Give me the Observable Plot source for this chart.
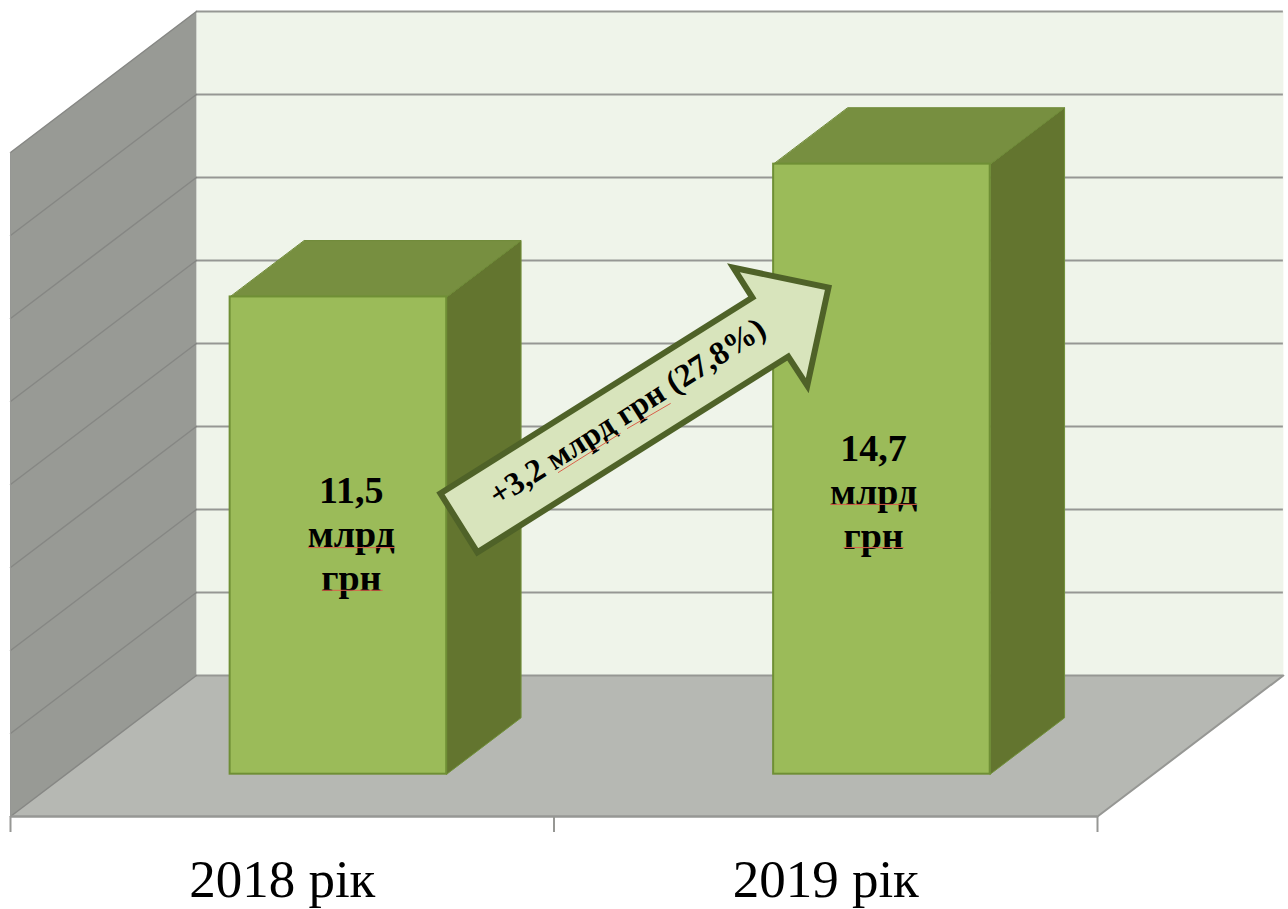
<!DOCTYPE html>
<html>
<head>
<meta charset="utf-8">
<style>html,body{margin:0;padding:0;background:#fff}svg{display:block}</style>
<script src="https://cdn.jsdelivr.net/npm/d3@7"></script>
<script src="https://cdn.jsdelivr.net/npm/@observablehq/plot@0.6"></script>
</head>
<body>
<script>
const years = ["2018 рік", "2019 рік"];
const values = [11.5, 14.7];
const valueText = ["11,5\nмлрд\nгрн", "14,7\nмлрд\nгрн"];
const labelX = [0.627, 1.588];
const labelY = [6.83, 7.84];
const gridValues = [0, 2, 4, 6, 8, 10, 12, 14, 16];
const arrowX = [0.791, 0.859, 1.431, 1.466, 1.505, 1.330, 1.365];
const arrowY = [7.784, 6.364, 11.084, 10.384, 12.744, 13.224, 12.504];
const deltaText = "+3,2 млрд грн (27,8%)";
const deltaAt = [1.135, 9.75];
const underlines = [
  [[0.548, 0.7065], [6.48, 6.48]], [[0.574, 0.684], [5.45, 5.45]],
  [[1.509, 1.667], [7.52, 7.52]], [[1.533, 1.643], [6.48, 6.48]],
  [[1.008, 1.122], [8.29, 9.23]], [[1.135, 1.214], [9.35, 9.95]]
];

// oblique projection: depth 0 = front plane, depth 1 = back wall (axis units per unit depth)
const DX = 0.342, DY = 3.398;
const P = (x, v, d) => [x + DX * d, v + DY * d];
const BAR_NEAR = 0.3, BAR_DEEP = 0.7, BAR_L = 0.3015, BAR_R = 0.7;

const poly = (pts, o) => Plot.line(pts, {x: p => p[0], y: p => p[1], curve: "linear-closed", ...o});
const GRID = "#969794";
const WALL_LINE = "#868784";

const marks = [
  // back wall, side wall, floor
  poly([P(0,0,1), P(2,0,1), P(2,16,1), P(0,16,1)], {fill: "#eff4ea", stroke: "none"}),
  poly([P(0,0,0), P(0,0,1), P(0,16,1), P(0,16,0)], {fill: "#989a95", stroke: "none"}),
  poly([P(0,0,0), P(2,0,0), P(2,0,1), P(0,0,1)], {fill: "#b6b8b3", stroke: "none"}),
  // gridlines
  Plot.ruleY(gridValues, {x1: DX, x2: 2 + DX, y: v => v + DY, stroke: GRID, strokeWidth: 2}),
  ...gridValues.map(v => Plot.line([P(0,v,0), P(0,v,1)], {x: p => p[0], y: p => p[1], stroke: WALL_LINE, strokeWidth: 1.5})),
  Plot.line([P(0,0,0), P(0,16,0)], {x: p => p[0], y: p => p[1], stroke: GRID, strokeWidth: 1}),
  Plot.line([P(2,0,0), P(2,0,1)], {x: p => p[0], y: p => p[1], stroke: GRID, strokeWidth: 2}),
  Plot.ruleY([0], {x1: 0, x2: 2, stroke: GRID, strokeWidth: 2.5}),
  // axes
  Plot.axisX([0, 1, 2], {tickSize: 16, tickFormat: () => "", stroke: GRID, strokeWidth: 2, anchor: "bottom", y: 0}),
  Plot.axisX([0.5, 1.5], {tickSize: 0, tickPadding: 43, tickFormat: (d, i) => years[i], fontSize: 53, fill: "#000", fontFamily: "Liberation Serif", anchor: "bottom", y: 0}),
  // bars
  ...values.flatMap((v, i) => {
    const l = i + BAR_L, r = i + BAR_R, n = BAR_NEAR, f = BAR_DEEP;
    return [
      poly([P(r,0,n), P(r,0,f), P(r,v,f), P(r,v,n)], {fill: "#63752f", stroke: "#71903a", strokeWidth: 1}),
      poly([P(l,v,n), P(r,v,n), P(r,v,f), P(l,v,f)], {fill: "#778f40", stroke: "#6f8a38", strokeWidth: 1}),
      Plot.rect([0], {x1: P(l,0,n)[0], x2: P(r,0,n)[0], y1: P(l,0,n)[1], y2: P(l,v,n)[1], fill: "#9bbb59", stroke: "#6f8f35", strokeWidth: 2})
    ];
  }),
  // value labels
  Plot.text(valueText, {x: (d, i) => labelX[i], y: (d, i) => labelY[i], text: d => d, fontSize: 38, fontWeight: "bold", lineHeight: 1.16, fill: "#000", fontFamily: "Liberation Serif"}),
  // arrow
  poly(arrowX.map((x, i) => [x, arrowY[i]]), {fill: "#d8e4bc", stroke: "#4f6228", strokeWidth: 6, strokeLinejoin: "miter", strokeMiterlimit: 10}),
  Plot.text([deltaText], {x: [deltaAt[0]], y: [deltaAt[1]], text: d => d, rotate: -32.5, fontSize: 32.5, fontWeight: "bold", fill: "#000", fontFamily: "Liberation Serif"}),
  // spell-check underlines
  ...underlines.map(([xs, ys]) => Plot.line(xs.map((x, i) => [x, ys[i]]), {x: p => p[0], y: p => p[1], stroke: "#d9604a", strokeWidth: 1}))
];

const chart = Plot.plot({
  width: 1288,
  height: 909,
  marginLeft: 0, marginRight: 0, marginTop: 0, marginBottom: 0,
  style: {background: "#fff", fontFamily: "Liberation Serif"},
  x: {domain: [0, 2], range: [10, 1097], axis: null},
  y: {domain: [0, 16], range: [816, 152], axis: null},
  marks
});
document.body.appendChild(chart);
</script>
</body>
</html>
